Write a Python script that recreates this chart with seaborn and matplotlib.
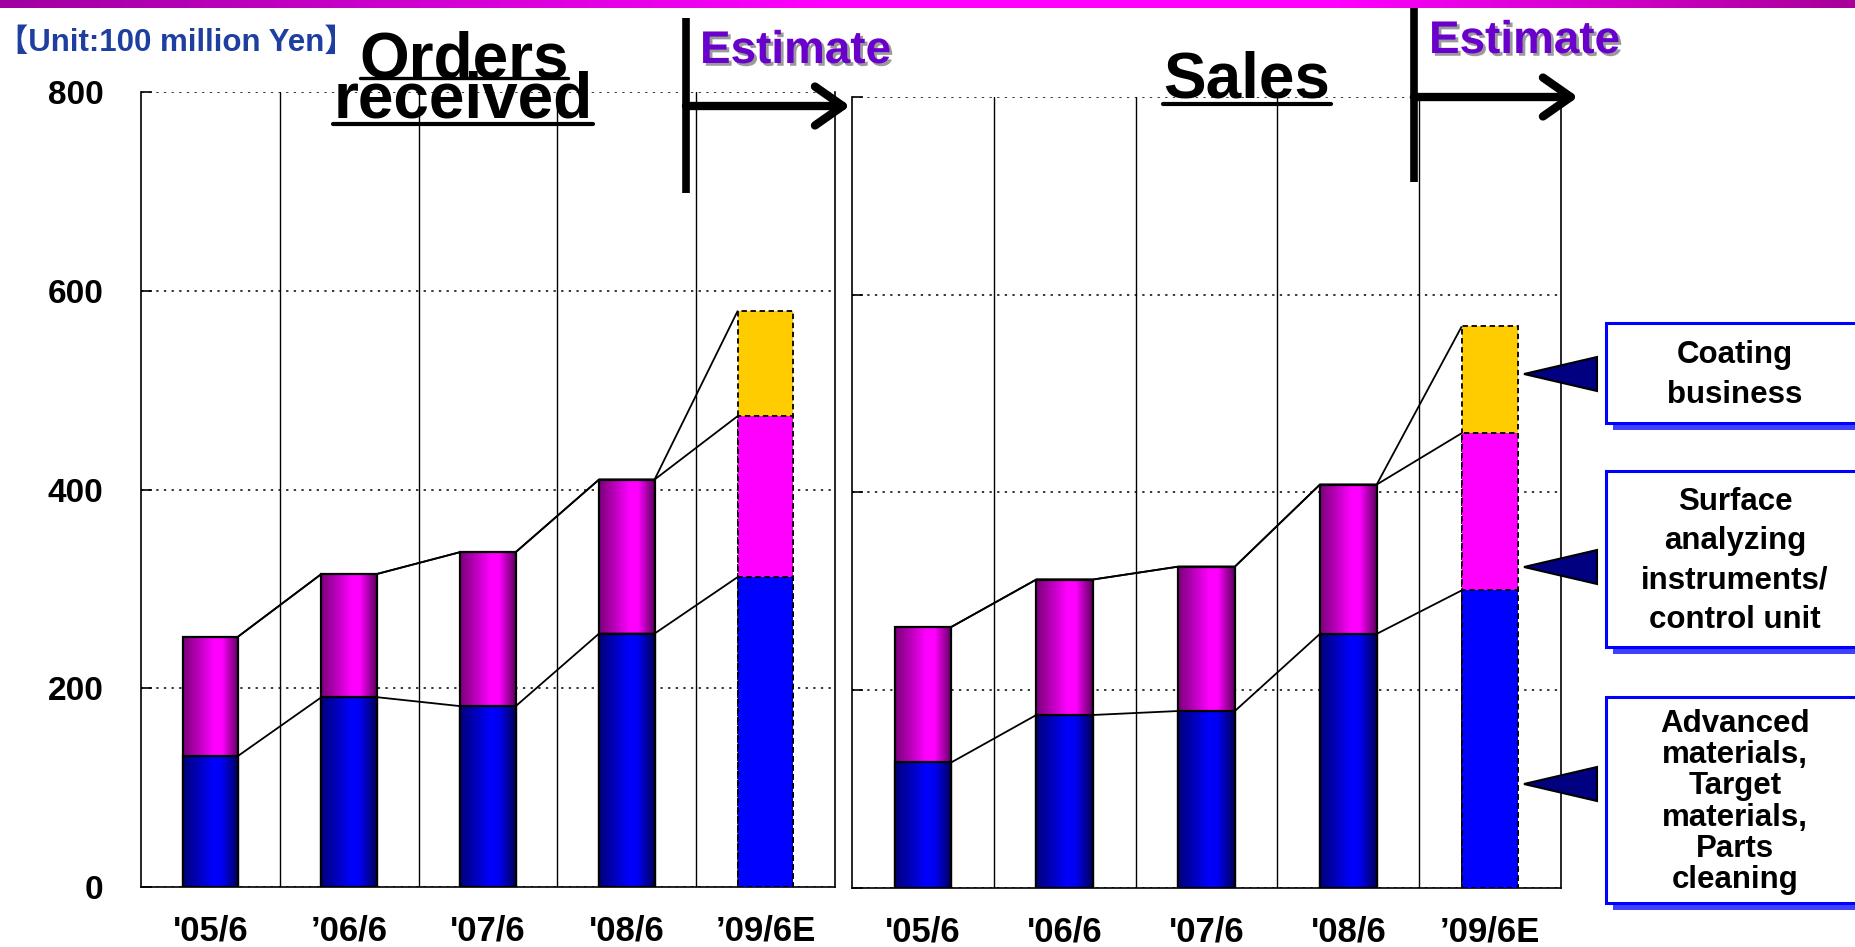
import numpy as np
import pandas as pd
import matplotlib
matplotlib.use("Agg")
import matplotlib.pyplot as plt
import seaborn as sns
from matplotlib.patches import Rectangle, Polygon, FancyArrowPatch
from matplotlib.lines import Line2D
from matplotlib.colors import LinearSegmentedColormap
import matplotlib.patheffects as pe

# ---- data (unit: 100 million yen) ----
periods_orders = ["'05/6", "\u201906/6", "'07/6", "'08/6", "\u201909/6E"]
periods_sales = ["'05/6", "'06/6", "'07/6", "'08/6", "\u201909/6E"]

orders_materials = [132, 191, 182, 255, 312]
orders_instruments = [120, 124, 155, 155, 162]
orders_coating = [0, 0, 0, 0, 106]

sales_materials = [127, 175, 179, 257, 301]
sales_instruments = [137, 137, 146, 151, 159]
sales_coating = [0, 0, 0, 0, 108]

y_ticks = [0, 200, 400, 600, 800]

segment_labels = [
    "Coating\nbusiness",
    "Surface\nanalyzing\ninstruments/\ncontrol unit",
    "Advanced\nmaterials,\nTarget\nmaterials,\nParts\ncleaning",
]

# ---- styling ----
sns.set_style("white")
plt.rcParams["font.family"] = ["Liberation Sans", "Noto Sans CJK JP", "DejaVu Sans"]
plt.rcParams["font.weight"] = "bold"
for key in ["text.color", "axes.labelcolor", "xtick.color", "ytick.color"]:
    plt.rcParams[key] = "black"

W, H = 1856, 947
fig = plt.figure(figsize=(W / 100, H / 100), dpi=100)


def px(x, y):
    """Pixel position (origin top-left) to figure fraction."""
    return (x / W, 1 - y / H)


BAR_W = 0.4
LAYERS = [
    # column, gradient stops, flat colour for the estimate bar
    ("total", None, "#FFCC00"),
    ("upper", ["#7a007a", "#c000c0", "#ff00ff", "#ff00ff", "#5a005a"], "#FF00FF"),
    ("lower", ["#00007a", "#0000c0", "#0000ff", "#0000f0", "#000058"], "#0000FF"),
]
GRAD_POS = [0.0, 0.3, 0.55, 0.7, 1.0]


def draw_panel(ax, periods, materials, instruments, coating, show_ylabels):
    df = pd.DataFrame({"period": periods, "materials": materials,
                       "instruments": instruments, "coating": coating})
    df["lower"] = df["materials"]
    df["upper"] = df["materials"] + df["instruments"]
    df["total"] = df["upper"] + df["coating"]
    is_estimate = [p.endswith("E") for p in periods]

    for k, (col, stops, flat) in enumerate(LAYERS):
        n0 = len(ax.patches)
        sns.barplot(data=df, x="period", y=col, color=flat, saturation=1,
                    width=BAR_W, errorbar=None, edgecolor="black",
                    linewidth=1.6, ax=ax)
        z = 2 + 2 * k
        for i, p in enumerate(ax.patches[n0:]):
            if col == "total" and df["coating"][i] == 0:
                p.set_visible(False)
                continue
            if is_estimate[i]:
                p.set_facecolor(flat)
                p.set_linestyle((0, (3, 2)))
                p.set_linewidth(1.3)
                p.set_zorder(z + 1)
                continue
            cmap = LinearSegmentedColormap.from_list(
                col + str(i), list(zip(GRAD_POS, stops)))
            x0, w = p.get_x(), p.get_width()
            y0, h = p.get_y(), p.get_height()
            img = ax.imshow(np.linspace(0, 1, 256).reshape(1, -1), cmap=cmap,
                            extent=[x0, x0 + w, y0, y0 + h], aspect="auto",
                            origin="lower", interpolation="bilinear", zorder=z)
            img.set_clip_path(p)
            p.set_facecolor("none")
            p.set_zorder(z + 1)

    # connecting lines between successive stack levels
    n = len(df)
    for col in ["lower", "upper", "total"]:
        xs, ys = [], []
        for i in range(n):
            if i > 0:
                xs.append(i - BAR_W / 2)
                ys.append(df[col][i])
            if i < n - 1:
                xs.append(i + BAR_W / 2)
                ys.append(df[col][i])
        ax.plot(xs, ys, color="black", lw=1.3, zorder=12,
                solid_capstyle="butt")

    ax.set_xlim(-0.5, n - 0.5)
    ax.set_ylim(0, 800)
    ax.set_yticks(y_ticks)
    ax.set_xticks(range(n))
    ax.set_xticks([i + 0.5 for i in range(n - 1)], minor=True)
    ax.set_xticklabels(periods, fontsize=25, fontweight="bold")
    ax.set_xlabel("")
    ax.set_ylabel("")
    ax.set_axisbelow(True)
    ax.yaxis.grid(True, linestyle=(0, (1.5, 3.5)), color="black", lw=1.1)
    ax.xaxis.grid(True, which="minor", linestyle="-", color="black", lw=1.0)
    ax.xaxis.grid(False, which="major")
    ax.tick_params(axis="x", which="both", length=0, pad=20)
    ax.tick_params(axis="y", direction="in", length=8, width=1.2, left=True,
                   pad=27, labelsize=24)
    if show_ylabels:
        for t in ax.get_yticklabels():
            t.set_fontweight("bold")
    else:
        ax.set_yticklabels([])
    for s in ["left", "right", "bottom"]:
        ax.spines[s].set_visible(True)
        ax.spines[s].set_color("black")
        ax.spines[s].set_linewidth(1.2)
    ax.spines["top"].set_visible(False)


ax1 = fig.add_axes([141 / W, 1 - 887 / H, (835 - 141) / W, (887 - 92) / H])
ax2 = fig.add_axes([852 / W, 1 - 888 / H, (1561 - 852) / W, (888 - 97) / H])
for a in (ax1, ax2):
    a.patch.set_alpha(0)

draw_panel(ax1, periods_orders, orders_materials, orders_instruments,
           orders_coating, True)
draw_panel(ax2, periods_sales, sales_materials, sales_instruments,
           sales_coating, False)

# ---- magenta banner across the top ----
ax_top = fig.add_axes([0, 1 - 8 / H, 1, 8 / H])
banner = LinearSegmentedColormap.from_list(
    "banner", [(0, "#a000a0"), (0.45, "#ff00ff"), (0.72, "#ff00ff"), (1, "#a80098")])
ax_top.imshow(np.linspace(0, 1, 512).reshape(1, -1), cmap=banner,
              aspect="auto", extent=[0, 1, 0, 1])
ax_top.axis("off")

# ---- headings ----
fig.text(*px(176, 43), "\u3010Unit:100 million Yen\u3011", color="#1f3fa0",
         fontsize=22.5, fontweight="bold", ha="center", va="center")

fig.text(*px(464, 77), "Orders", fontsize=46, fontweight="bold",
         ha="center", va="baseline")
fig.text(*px(463, 118), "received", fontsize=46, fontweight="bold",
         ha="center", va="baseline")
fig.text(*px(1247, 97), "Sales", fontsize=46, fontweight="bold",
         ha="center", va="baseline")
for (xa, xb, y, lw) in [(360, 568, 78, 2.4), (333, 593, 124, 3.0),
                        (1163, 1331, 104, 3.0)]:
    fig.add_artist(Line2D([xa / W, xb / W], [1 - y / H, 1 - y / H],
                          color="black", lw=lw, transform=fig.transFigure))

shadow = [pe.withSimplePatchShadow(offset=(2, -2), shadow_rgbFace="#9a9a9a",
                                   alpha=1)]
for (x, y) in [(700, 63), (1429, 53)]:
    fig.text(*px(x, y), "Estimate", color="#6a00cc", fontsize=33,
             fontweight="bold", ha="left", va="baseline", path_effects=shadow)

# forecast markers: vertical bar plus arrow
for (x, ytop, ybot, yarr, xend) in [(686, 18, 193, 106, 850),
                                    (1414, 8, 182, 97, 1578)]:
    fig.add_artist(Line2D([x / W, x / W], [1 - ytop / H, 1 - ybot / H],
                          color="black", lw=5.5, transform=fig.transFigure,
                          solid_capstyle="butt"))
    fig.add_artist(FancyArrowPatch(px(x, yarr), px(xend, yarr),
                                   transform=fig.transFigure,
                                   arrowstyle="->,head_length=1.0,head_width=0.7",
                                   mutation_scale=20, lw=6, color="black",
                                   capstyle="round", joinstyle="round",
                                   shrinkA=0, shrinkB=0))

# ---- segment callouts ----
boxes = [(323, 423, 374), (471, 647, 567), (697, 903, 784)]
spacings = [1.42, 1.42, 1.06]
for (top, bot, ytri), label, ls in zip(boxes, segment_labels, spacings):
    fig.add_artist(Rectangle(px(1613, bot + 7), 300 / W, (bot - top) / H,
                             transform=fig.transFigure, facecolor="#3f3fff",
                             edgecolor="none", zorder=5))
    fig.add_artist(Rectangle(px(1606, bot), 300 / W, (bot - top) / H,
                             transform=fig.transFigure, facecolor="white",
                             edgecolor="#0000ff", lw=2.2, zorder=6))
    fig.text(*px(1735, (top + bot) / 2 + 2), label, fontsize=22.5,
             fontweight="bold", ha="center", va="center",
             multialignment="center", linespacing=ls, zorder=7)
    fig.add_artist(Polygon([px(1524, ytri), px(1597, ytri - 17),
                            px(1597, ytri + 17)], closed=True,
                           transform=fig.transFigure, facecolor="#000080",
                           edgecolor="black", lw=1.5, zorder=6))

fig.savefig("out.png", dpi=100)
